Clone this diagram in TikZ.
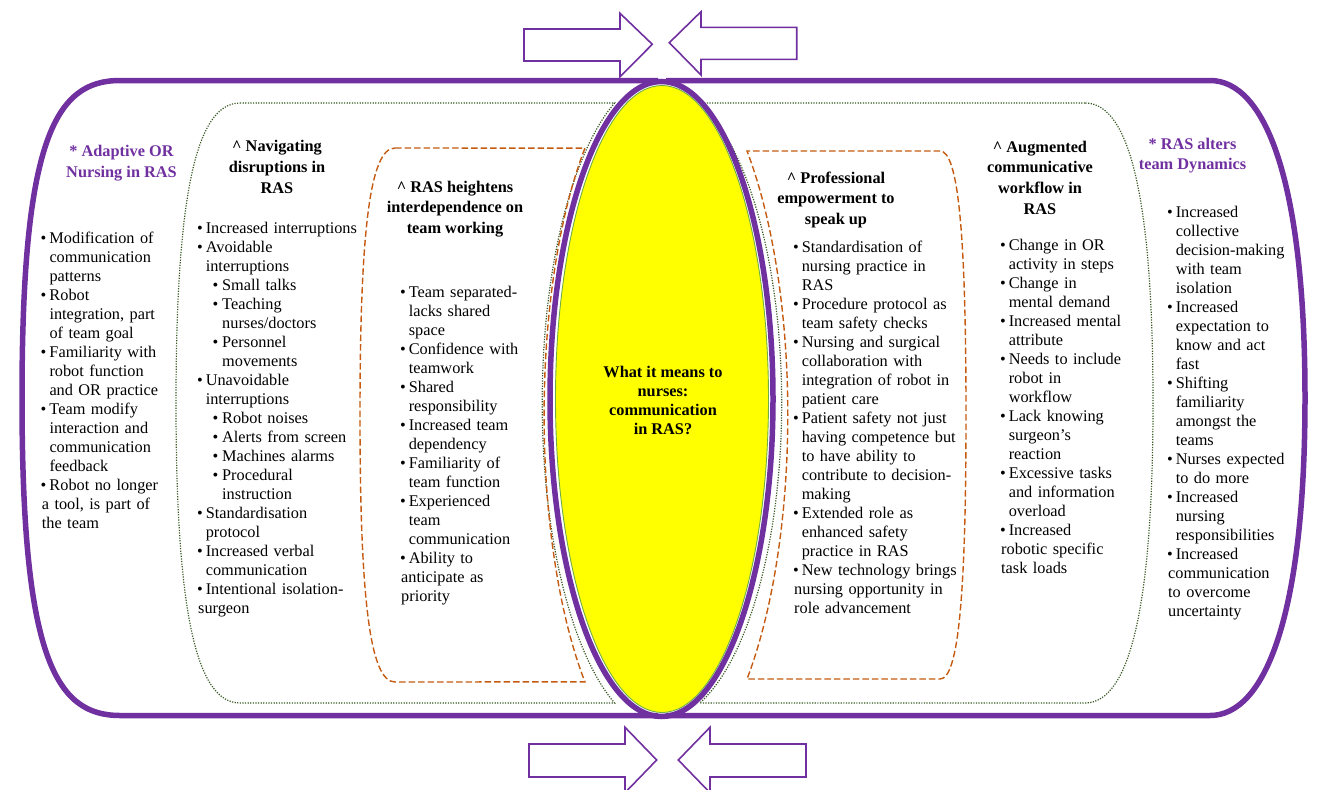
\documentclass[tikz,border=0pt]{standalone}
\usepackage{fontspec}
\setmainfont{Liberation Serif}
\definecolor{ppl}{HTML}{7030A0}
\definecolor{orng}{HTML}{C55A11}
\definecolor{dgreen}{HTML}{385723}
\definecolor{lgreen}{HTML}{70AD47}
\definecolor{yel}{HTML}{FFFF00}
\newcommand\bi[1]{\par\noindent\makebox[7.6pt][l]{\hspace*{-1.2pt}\textbullet}#1\hangindent=7.6pt\hangafter=1\relax}
\newcommand\sbi[1]{\par\noindent\hspace*{15.5pt}\makebox[8.5pt][l]{\hspace*{-1.2pt}\textbullet}#1\hangindent=24pt\hangafter=1\relax}
\tikzset{
  pline/.style={draw=ppl, line width=5.5pt},
  gdot/.style={draw=dgreen, line width=1.2pt, dash pattern=on 1.2pt off 1.4pt},
  odash/.style={draw=orng, line width=1.4pt, dash pattern=on 6.5pt off 3pt},
  blockarrow/.style={draw=ppl, line width=1.6pt, fill=white, line join=miter},
  body/.style={anchor=base west, inner sep=0pt, text width=175pt, align=left, font=\fontsize{16.3}{19}\selectfont},
  ttl/.style={anchor=base, inner sep=0pt, align=center, font=\fontsize{16.3}{20.7}\selectfont\bfseries},
}
\begin{document}
\begin{tikzpicture}[x=1pt,y=-1pt]
\useasboundingbox (0,0) rectangle (1318,790);
% block arrows
\draw[blockarrow] (524,29) -- (620,29) -- (620,13.3) -- (652.3,44.3) -- (620,76.7) -- (620,61) -- (524,61) -- cycle;
\draw[blockarrow] (796.7,27.3) -- (701,27.3) -- (701,11.7) -- (669.3,42.7) -- (701,75) -- (701,59.3) -- (796.7,59.3) -- cycle;
\draw[blockarrow] (529,744) -- (625,744) -- (625,727.3) -- (656.7,760) -- (625,792.7) -- (625,777) -- (529,777) -- cycle;
\draw[blockarrow] (806,744) -- (710,744) -- (710,727.3) -- (678.3,760) -- (710,792.7) -- (710,777) -- (806,777) -- cycle;
% outer purple halves
\draw[pline] (658,80.5) -- (120,80.5) .. controls (55,80.5) and (22,140) .. (22,398) .. controls (22,656) and (55,715.5) .. (120,715.5) -- (658,715.5);
\draw[pline] (666,80.5) -- (1210,80.5) .. controls (1265,80.5) and (1305,180) .. (1305,398) .. controls (1305,616) and (1265,715.5) .. (1210,715.5) -- (666,715.5);
% green dotted crescents
\draw[gdot] (240,103) -- plot[domain=67:-67, samples=90, smooth] ({661-118.8*cos(\x)},{403-325.9*sin(\x)}) -- (240,703) .. controls (195,703) and (176,606) .. (176,403) .. controls (176,200) and (195,103) .. (240,103) -- cycle;
\draw[gdot] (1085,103) -- plot[domain=71.3:-71.3, samples=90, smooth] ({661+120.7*cos(\x)},{403-316.8*sin(\x)}) -- (1085,703) .. controls (1130,703) and (1153,606) .. (1153,403) .. controls (1153,200) and (1130,103) .. (1085,103) -- cycle;
% orange dashed crescents
\draw[odash] (395,148) -- plot[domain=49.4:-49.4, samples=90, smooth] ({661-116.9*cos(\x)},{415-351.5*sin(\x)}) -- (395,682) .. controls (370,682) and (360,600) .. (360,415) .. controls (360,230) and (370,148) .. (395,148) -- cycle;
\draw[odash] (940,151) -- plot[domain=47.3:-47.3, samples=90, smooth] ({661+126.8*cos(\x)},{415-359.3*sin(\x)}) -- (940,679) .. controls (958,679) and (966,600) .. (966,415) .. controls (966,230) and (958,151) .. (940,151) -- cycle;
% central ellipse
\draw[draw=ppl, line width=5.5pt] (661.5,399) ellipse [x radius=111.5pt, y radius=317.5pt];
\filldraw[fill=yel, draw=lgreen, line width=0.9pt] (662,399) ellipse [x radius=106.5pt, y radius=313.5pt];
\node[ttl, font=\fontsize{16.3}{19.3}\selectfont\bfseries] (center) at (663,434.9) {What it means to\\nurses:\\communication\\in RAS?};
% titles (anchored at the baseline of their last line)
\node[ttl, text=ppl, font=\fontsize{16.3}{21}\selectfont\bfseries] (t1) at (121.5,177) {* Adaptive OR\\Nursing in RAS};
\node[ttl] (t2) at (277,193.1) {\textasciicircum\ Navigating\\disruptions in\\RAS};
\node[ttl] (t3) at (455,233.4) {\textasciicircum\ RAS heightens\\interdependence on\\team working};
\node[ttl] (t4) at (836,224.4) {\textasciicircum\ Professional\\empowerment to\\speak up};
\node[ttl] (t5) at (1040,214.1) {\textasciicircum\ Augmented\\communicative\\workflow in\\RAS};
\node[ttl, text=ppl, font=\fontsize{16.3}{20}\selectfont\bfseries] (t6) at (1192.5,169.3) {* RAS alters\\team Dynamics};
% bodies
\node[body] (b1) at (41.7,224) {%
\bi{Modification of\newline communication\newline patterns}
\bi{Robot\newline integration, part\newline of team goal}
\bi{Familiarity with\newline robot function\newline and OR practice}
\bi{Team modify\newline interaction and\newline communication\newline feedback}
\bi{Robot no longer\newline a tool, is part of\newline the team}};
\node[body] (b2) at (198,214) {%
\bi{Increased interruptions}
\bi{Avoidable\newline interruptions}
\sbi{Small talks}
\sbi{Teaching\newline nurses/doctors}
\sbi{Personnel\newline movements}
\bi{Unavoidable\newline interruptions}
\sbi{Robot noises}
\sbi{Alerts from screen}
\sbi{Machines alarms}
\sbi{Procedural\newline instruction}
\bi{Standardisation\newline protocol}
\bi{Increased verbal\newline communication}
\bi{Intentional isolation-\newline surgeon}};
\node[body] (b3) at (401,278) {%
\bi{Team separated-\newline lacks shared\newline space}
\bi{Confidence with\newline teamwork}
\bi{Shared\newline responsibility}
\bi{Increased team\newline dependency}
\bi{Familiarity of\newline team function}
\bi{Experienced\newline team\newline communication}
\bi{Ability to\newline anticipate as\newline priority}};
\node[body] (b4) at (794,233) {%
\bi{Standardisation of\newline nursing practice in\newline RAS}
\bi{Procedure protocol as\newline team safety checks}
\bi{Nursing and surgical\newline collaboration with\newline integration of robot in\newline patient care}
\bi{Patient safety not just\newline having competence but\newline to have ability to\newline contribute to decision-\newline making}
\bi{Extended role as\newline enhanced safety\newline practice in RAS}
\bi{New technology brings\newline nursing opportunity in\newline role advancement}};
\node[body] (b5) at (1001,231) {%
\bi{Change in OR\newline activity in steps}
\bi{Change in\newline mental demand}
\bi{Increased mental\newline attribute}
\bi{Needs to include\newline robot in\newline workflow}
\bi{Lack knowing\newline surgeon’s\newline reaction}
\bi{Excessive tasks\newline and information\newline overload}
\bi{Increased\newline robotic specific\newline task loads}};
\node[body] (b6) at (1168,198.5) {%
\bi{Increased\newline collective\newline decision-making\newline with team\newline isolation}
\bi{Increased\newline expectation to\newline know and act\newline fast}
\bi{Shifting\newline familiarity\newline amongst the\newline teams}
\bi{Nurses expected\newline to do more}
\bi{Increased\newline nursing\newline responsibilities}
\bi{Increased\newline communication\newline to overcome\newline uncertainty}};
\end{tikzpicture}
\end{document}
